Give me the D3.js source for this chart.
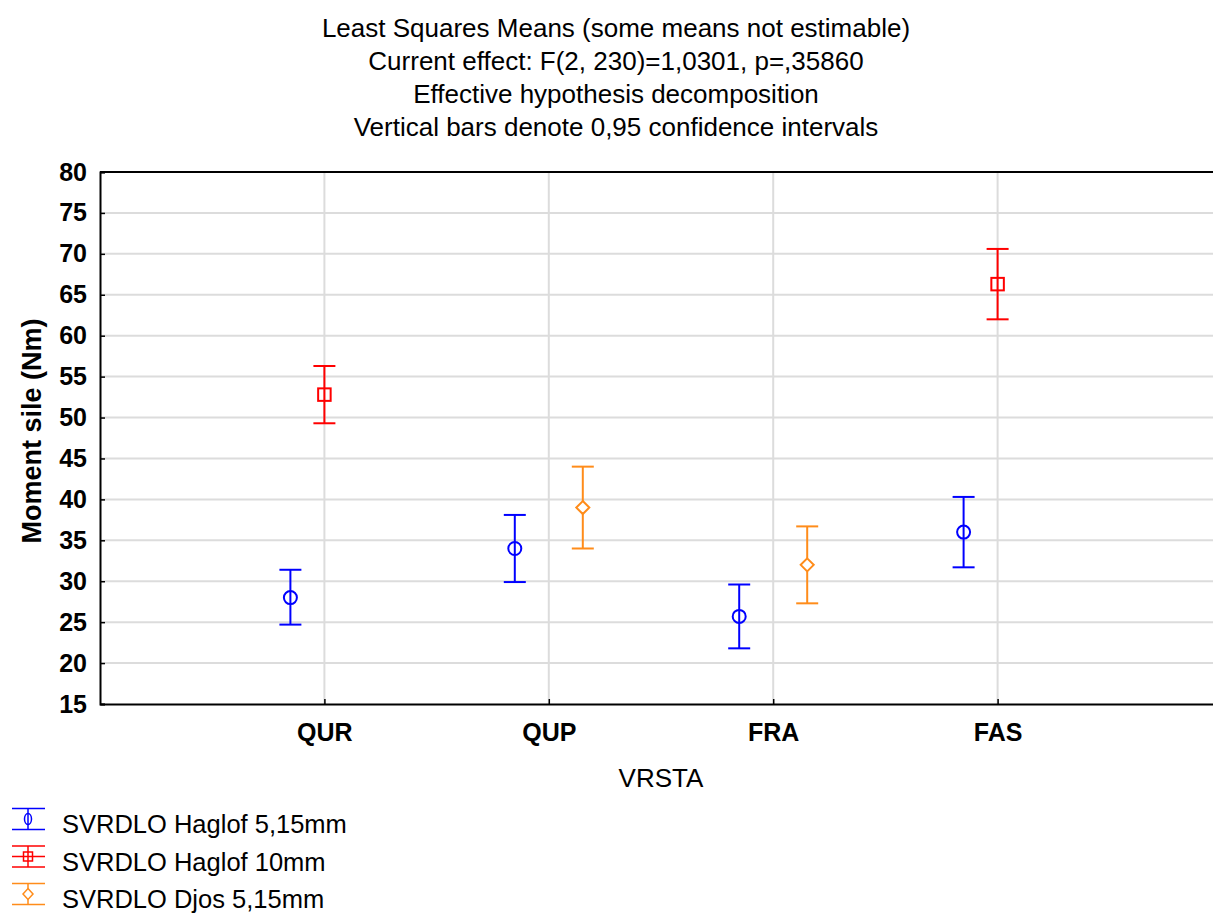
<!DOCTYPE html>
<html><head><meta charset="utf-8">
<script src="https://cdn.jsdelivr.net/npm/d3@7"></script>
<style>body{margin:0;background:#fff;}svg{display:block;font-family:"Liberation Sans",Arial,sans-serif;}</style>
</head><body>
<svg id="c" width="1213" height="915"></svg>
<script>
const categories = ["QUR","QUP","FRA","FAS"];
const titleLines = ["Least Squares Means (some means not estimable)","Current effect: F(2, 230)=1,0301, p=,35860","Effective hypothesis decomposition","Vertical bars denote 0,95 confidence intervals"];
const yTicks = [15,20,25,30,35,40,45,50,55,60,65,70,75,80];
const seriesNames = ["SVRDLO Haglof 5,15mm","SVRDLO Haglof 10mm","SVRDLO Djos 5,15mm"];
const seriesColors = ["#0000ff","#ff0000","#ff8c1a"];
const seriesShapes = ["circle","square","diamond"];
// means and CI bounds per category (null = not estimable)
const haglof515Mean = [28.0, 34.0, 25.7, 36.0];
const haglof515Low  = [24.7, 29.9, 21.8, 31.7];
const haglof515High = [31.4, 38.1, 29.6, 40.3];
const haglof10Mean = [52.8, null, null, 66.3];
const haglof10Low  = [49.3, null, null, 62.0];
const haglof10High = [56.3, null, null, 70.6];
const djos515Mean = [null, 39.0, 32.0, null];
const djos515Low  = [null, 34.0, 27.3, null];
const djos515High = [null, 44.0, 36.7, null];

const series = [
  {mean:haglof515Mean, low:haglof515Low, high:haglof515High, offset:-34},
  {mean:haglof10Mean, low:haglof10Low, high:haglof10High, offset:0},
  {mean:djos515Mean, low:djos515Low, high:djos515High, offset:34}
];

const svg = d3.select("#c");
const L=100, T=172, B=704, R=1222;
const FF = "'Liberation Sans',Arial,sans-serif";
const y = d3.scaleLinear().domain([15,80]).range([B,T]);
const x = d3.scalePoint().domain(["", ...categories, " "]).range([L,R]);

// titles
svg.append("g").selectAll("text").data(titleLines).join("text")
  .attr("x",616).attr("y",(d,i)=>37+i*33).attr("text-anchor","middle")
  .attr("font-size",26).attr("fill","#000").text(d=>d);

// grid
const grid = svg.append("g");
grid.selectAll("line.h").data(yTicks.slice(1,-1)).join("line")
  .attr("x1",L).attr("x2",R).attr("y1",d=>y(d)).attr("y2",d=>y(d))
  .attr("stroke","#dcdcdc").attr("stroke-width",2);
grid.selectAll("line.v").data(categories).join("line")
  .attr("x1",d=>x(d)).attr("x2",d=>x(d)).attr("y1",T).attr("y2",B)
  .attr("stroke","#dcdcdc").attr("stroke-width",2);

// axes
const yAxis = svg.append("g").attr("transform",`translate(${L},0)`)
  .call(d3.axisLeft(y).tickValues(yTicks).tickSize(-5).tickPadding(13));
yAxis.select(".domain").attr("stroke","#000").attr("stroke-width",2);
yAxis.selectAll(".tick line").attr("stroke","#000").attr("stroke-width",1.5);
yAxis.selectAll(".tick text").attr("font-size",25).attr("font-weight","bold")
  .attr("font-family",FF).attr("fill","#000");

const xAxis = svg.append("g").attr("transform",`translate(0,${B})`)
  .call(d3.axisBottom(x).tickValues(categories).tickSize(-5).tickPadding(19).tickSizeOuter(0));
xAxis.select(".domain").attr("stroke","#000").attr("stroke-width",2);
xAxis.selectAll(".tick line").attr("stroke","#000").attr("stroke-width",1.5);
xAxis.selectAll(".tick text").attr("font-size",25).attr("font-weight","bold")
  .attr("font-family",FF).attr("fill","#000");

// top border
svg.append("line").attr("x1",L).attr("x2",R).attr("y1",T).attr("y2",T).attr("stroke","#000").attr("stroke-width",2);

// axis titles
svg.append("text").attr("transform","translate(41,431) rotate(-90)").attr("text-anchor","middle")
  .attr("font-size",27).attr("font-weight","bold").text("Moment sile (Nm)");
svg.append("text").attr("x",661).attr("y",787).attr("text-anchor","middle")
  .attr("font-size",26).text("VRSTA");

function drawMarker(g, shape, color, cx, cy, s){
  if(shape==="circle") g.append("circle").attr("cx",cx).attr("cy",cy).attr("r",s/2)
    .attr("fill","none").attr("stroke",color).attr("stroke-width",2);
  else if(shape==="square") g.append("rect").attr("x",cx-s/2).attr("y",cy-s/2).attr("width",s).attr("height",s)
    .attr("fill","none").attr("stroke",color).attr("stroke-width",2);
  else g.append("path").attr("d",`M${cx},${cy-s/2}L${cx+s/2},${cy}L${cx},${cy+s/2}L${cx-s/2},${cy}Z`)
    .attr("fill","none").attr("stroke",color).attr("stroke-width",2);
}

// error bars
series.forEach((s,si)=>{
  const g = svg.append("g");
  const color = seriesColors[si];
  categories.forEach((c,ci)=>{
    if(s.mean[ci]==null) return;
    const cx = x(c)+s.offset;
    const yl=y(s.low[ci]), yh=y(s.high[ci]), ym=y(s.mean[ci]);
    const ms = si===0?13:(si===1?12.5:13);
    g.append("line").attr("x1",cx).attr("x2",cx).attr("y1",yh).attr("y2",ym-ms/2)
      .attr("stroke",color).attr("stroke-width",2);
    g.append("line").attr("x1",cx).attr("x2",cx).attr("y1",ym+ms/2).attr("y2",yl)
      .attr("stroke",color).attr("stroke-width",2);
    [yl,yh].forEach(yy=>g.append("line").attr("x1",cx-11).attr("x2",cx+11).attr("y1",yy).attr("y2",yy)
      .attr("stroke",color).attr("stroke-width",2));
    drawMarker(g, seriesShapes[si], color, cx, ym, ms);
    if(si<2){ // vertical line passes through circle and square
      g.append("line").attr("x1",cx).attr("x2",cx).attr("y1",ym-ms/2).attr("y2",ym+ms/2)
        .attr("stroke",color).attr("stroke-width",2);
    }
  });
});

// legend
const leg = svg.append("g");
seriesNames.forEach((n,i)=>{
  const cy = 819 + i*37.5, cx = 28, color=seriesColors[i];
  const g = leg.append("g");
  g.append("line").attr("x1",12).attr("x2",45).attr("y1",cy-10.5).attr("y2",cy-10.5).attr("stroke",color).attr("stroke-width",1.5);
  g.append("line").attr("x1",12).attr("x2",45).attr("y1",cy+10.5).attr("y2",cy+10.5).attr("stroke",color).attr("stroke-width",1.5);
  g.append("line").attr("x1",cx).attr("x2",cx).attr("y1",cy-10.5).attr("y2",cy+10.5).attr("stroke",color).attr("stroke-width",1.5);
  if(i===1) g.append("line").attr("x1",12).attr("x2",45).attr("y1",cy).attr("y2",cy).attr("stroke",color).attr("stroke-width",1.5);
  const s = 9;
  if(seriesShapes[i]==="circle") g.append("ellipse").attr("cx",cx).attr("cy",cy).attr("rx",3.5).attr("ry",5.5).attr("fill","none").attr("stroke",color).attr("stroke-width",1.5);
  else if(seriesShapes[i]==="square") g.append("rect").attr("x",cx-s/2).attr("y",cy-s/2).attr("width",s).attr("height",s).attr("fill","none").attr("stroke",color).attr("stroke-width",1.5);
  else g.append("path").attr("d",`M${cx},${cy-5.5}L${cx+5},${cy}L${cx},${cy+5.5}L${cx-5},${cy}Z`).attr("fill","#fff").attr("stroke",color).attr("stroke-width",1.5);
  g.append("text").attr("x",62).attr("y",cy+14).attr("font-size",25.5).text(n);
});
</script>
</body></html>
